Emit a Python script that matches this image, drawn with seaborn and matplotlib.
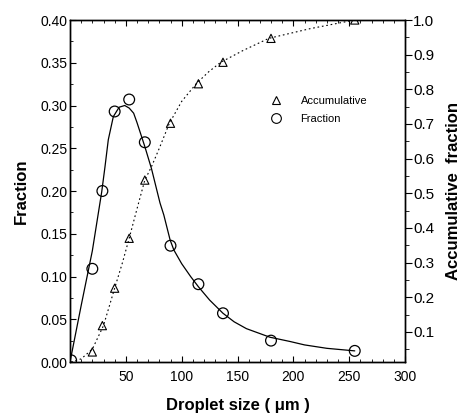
import matplotlib
matplotlib.use("Agg")
import matplotlib.pyplot as plt
import seaborn as sns
import pandas as pd
from matplotlib.ticker import MultipleLocator
from matplotlib.lines import Line2D

# measured points
size_um = [1, 20, 29, 40, 53, 67, 90, 115, 137, 180, 255]
fraction = [0.002, 0.109, 0.200, 0.293, 0.307, 0.257, 0.136, 0.091, 0.057, 0.025, 0.013]
accumulative = [0.0, 0.042, 0.118, 0.226, 0.370, 0.538, 0.702, 0.816, 0.878, 0.947, 1.0]

# fitted curves
fit_x = [0, 10, 20, 28.4, 31.3, 34.3, 38.8, 44, 49, 53, 57, 60, 64, 67, 73, 80.6, 84,
         89.6, 93, 100, 108, 115, 125, 137, 147, 158, 179, 197, 210, 230, 255]
fit_frac = [0.0, 0.066, 0.13, 0.199, 0.228, 0.26, 0.287, 0.298, 0.300, 0.297, 0.291,
            0.280, 0.264, 0.252, 0.226, 0.186, 0.172, 0.143, 0.131, 0.115, 0.100, 0.088,
            0.0725, 0.057, 0.047, 0.039, 0.029, 0.024, 0.020, 0.016, 0.013]
acc_x = [1, 10, 20, 30, 40, 47, 53, 60, 67, 73, 80, 89, 100, 113, 124, 135, 155, 178,
         215, 255]
acc_fit = [0.013, 0.022, 0.050, 0.118, 0.226, 0.30, 0.370, 0.455, 0.538, 0.577, 0.63,
           0.702, 0.765, 0.816, 0.85, 0.878, 0.912, 0.947, 0.975, 1.0]

df_pts = pd.DataFrame({"size": size_um, "fraction": fraction, "acc": accumulative})
df_fit = pd.DataFrame({"x": fit_x, "y": fit_frac})
df_acc = pd.DataFrame({"x": acc_x, "y": acc_fit})

sns.set_style("ticks")
plt.rcParams["font.family"] = ["Liberation Sans", "DejaVu Sans"]
plt.rcParams["text.color"] = "black"
plt.rcParams["axes.labelcolor"] = "black"
plt.rcParams["xtick.color"] = "black"
plt.rcParams["ytick.color"] = "black"
plt.rcParams["axes.edgecolor"] = "black"

fig = plt.figure(figsize=(4.62, 4.15), dpi=100)
ax = fig.add_axes([70 / 462, 53 / 415, 335 / 462, 342 / 415])
ax2 = ax.twinx()

sns.lineplot(data=df_fit, x="x", y="y", ax=ax, color="black", linewidth=0.9)
sns.scatterplot(data=df_pts, x="size", y="fraction", ax=ax, marker="o", s=60,
                facecolor="none", edgecolor="black", linewidth=0.9, zorder=5)

sns.lineplot(data=df_acc, x="x", y="y", ax=ax2, color="black", linewidth=0.8,
             linestyle=(0, (1.5, 2.5)))
sns.scatterplot(data=df_pts, x="size", y="acc", ax=ax2, marker="^", s=35,
                facecolor="none", edgecolor="black", linewidth=0.8, zorder=5)

ax.set_xlim(0, 300)
ax.set_ylim(0, 0.40)
ax2.set_ylim(0.013, 1.0)

ax.set_xticks([50, 100, 150, 200, 250, 300])
ax.xaxis.set_minor_locator(MultipleLocator(10))
ax.set_yticks([0.0, 0.05, 0.10, 0.15, 0.20, 0.25, 0.30, 0.35, 0.40])
ax.set_yticklabels([f"{v:.2f}" for v in ax.get_yticks()])
ax.yaxis.set_minor_locator(MultipleLocator(0.025))
ax.tick_params(axis="both", which="both", direction="in", top=True, labelsize=10)
ax.tick_params(axis="x", which="major", length=4, pad=6)
ax.tick_params(axis="y", which="major", length=4, pad=2)
ax.tick_params(which="minor", length=2.5)

ax2.set_yticks([0.1, 0.2, 0.3, 0.4, 0.5, 0.6, 0.7, 0.8, 0.9, 1.0])
ax2.yaxis.set_minor_locator(MultipleLocator(0.05))
ax2.tick_params(axis="y", which="both", direction="out", labelsize=11, pad=1)
ax2.tick_params(axis="y", which="major", length=5)
ax2.tick_params(axis="y", which="minor", length=3)

for a in (ax, ax2):
    for sp in a.spines.values():
        sp.set_linewidth(1.0)
        sp.set_visible(True)

ax.set_xlabel("Droplet size ( μm )", fontsize=12, fontweight="bold", labelpad=10)
ax.set_ylabel("Fraction", fontsize=12, fontweight="bold", labelpad=8)
ax2.set_ylabel("Accumulative  fraction", fontsize=12, fontweight="bold", labelpad=8)

handles = [
    Line2D([], [], marker="^", linestyle="none", markerfacecolor="none",
           markeredgecolor="black", markersize=6, markeredgewidth=0.8),
    Line2D([], [], marker="o", linestyle="none", markerfacecolor="none",
           markeredgecolor="black", markersize=7, markeredgewidth=0.8),
]
ax.legend(handles, ["Accumulative", "Fraction"], loc="upper left",
          bbox_to_anchor=(255 / 462, 1 - 86 / 415), bbox_transform=fig.transFigure,
          frameon=False, fontsize=8, handletextpad=1.2, labelspacing=0.7)

fig.savefig("out.png", dpi=100)
